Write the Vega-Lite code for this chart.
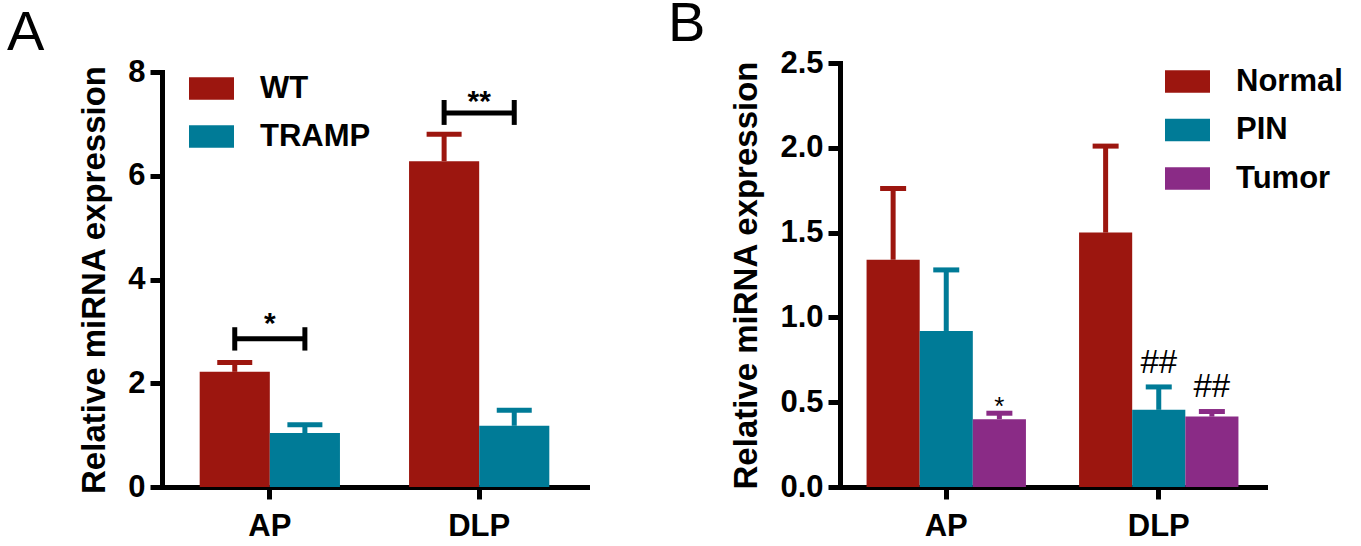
{
  "$schema": "https://vega.github.io/schema/vega-lite/v6.json",
  "background": "white",
  "padding": {"left": 7, "top": -4, "right": 5, "bottom": 5},
  "spacing": 81,
  "resolve": {
    "scale": {"x": "independent", "y": "independent", "xOffset": "independent", "color": "independent"},
    "axis": {"x": "independent", "y": "independent"},
    "legend": {"color": "independent"}
  },
  "datasets": {
    "barsA": [
      {"region": "AP", "group": "WT", "mean": 2.22, "upper": 2.4},
      {"region": "AP", "group": "TRAMP", "mean": 1.04, "upper": 1.2},
      {"region": "DLP", "group": "WT", "mean": 6.28, "upper": 6.8},
      {"region": "DLP", "group": "TRAMP", "mean": 1.18, "upper": 1.48}
    ],
    "bracketA": [
      {"region": "AP", "y": 2.86, "star": 3.25, "label": "*"},
      {"region": "DLP", "y": 7.21, "star": 7.54, "label": "**"}
    ],
    "bracketEndsA": [
      {"region": "AP", "group": "WT", "lo": 2.63, "hi": 3.08},
      {"region": "AP", "group": "TRAMP", "lo": 2.63, "hi": 3.08},
      {"region": "DLP", "group": "WT", "lo": 6.98, "hi": 7.46},
      {"region": "DLP", "group": "TRAMP", "lo": 6.98, "hi": 7.46}
    ],
    "barsB": [
      {"region": "AP", "group": "Normal", "mean": 1.34, "upper": 1.76},
      {"region": "AP", "group": "PIN", "mean": 0.92, "upper": 1.28},
      {"region": "AP", "group": "Tumor", "mean": 0.4, "upper": 0.435},
      {"region": "DLP", "group": "Normal", "mean": 1.5, "upper": 2.01},
      {"region": "DLP", "group": "PIN", "mean": 0.455, "upper": 0.59},
      {"region": "DLP", "group": "Tumor", "mean": 0.415, "upper": 0.445}
    ],
    "starsB": [
      {"region": "AP", "group": "Tumor", "pos": 0.5, "label": "*"}
    ],
    "hashB": [
      {"region": "DLP", "group": "PIN", "pos": 0.74, "label": "##"},
      {"region": "DLP", "group": "Tumor", "pos": 0.6, "label": "##"}
    ]
  },
  "hconcat": [
    {
      "width": 425,
      "height": 424,
      "title": {"text": "A", "anchor": "start", "frame": "group", "dx": -155, "offset": -6, "fontSize": 56, "fontWeight": "normal", "font": "Liberation Sans", "color": "black"},
      "layer": [
        {
          "data": {"name": "barsA"},
          "mark": {"type": "bar"},
          "encoding": {
            "x": {"field": "region", "type": "nominal", "sort": ["AP", "DLP"],
                  "scale": {"paddingInner": 0.33, "paddingOuter": 0.18},
                  "axis": {"title": null, "labelAngle": 0, "labelPadding": 12}},
            "xOffset": {"field": "group", "type": "nominal", "scale": {"domain": ["WT", "TRAMP"]}},
            "y": {"field": "mean", "type": "quantitative",
                  "scale": {"domain": [0, 8], "range": [424, 9], "nice": false},
                  "axis": {"title": "Relative miRNA expression", "values": [0, 2, 4, 6, 8], "format": "d", "labelPadding": 5, "titlePadding": 16}},
            "color": {"field": "group", "type": "nominal",
                      "scale": {"domain": ["WT", "TRAMP"], "range": ["#9c160f", "#007b97"]},
                      "legend": {"orient": "none", "legendX": 27, "legendY": 3, "title": null,
                                 "symbolType": "M-1,-0.5H1V0.5H-1Z", "symbolSize": 2025, "symbolStrokeWidth": 0,
                                 "labelFont": "Liberation Sans", "labelFontSize": 31, "labelFontWeight": "bold", "labelColor": "black",
                                 "labelOffset": 26, "rowPadding": 10}}
          }
        },
        {
          "data": {"name": "barsA"},
          "mark": {"type": "rule", "strokeWidth": 5},
          "encoding": {
            "x": {"field": "region", "type": "nominal", "sort": ["AP", "DLP"]},
            "xOffset": {"field": "group", "type": "nominal"},
            "y": {"field": "mean", "type": "quantitative"},
            "y2": {"field": "upper"},
            "color": {"field": "group", "type": "nominal", "legend": null}
          }
        },
        {
          "data": {"name": "barsA"},
          "mark": {"type": "tick", "orient": "horizontal", "size": 35, "thickness": 5, "opacity": 1},
          "encoding": {
            "x": {"field": "region", "type": "nominal", "sort": ["AP", "DLP"]},
            "xOffset": {"field": "group", "type": "nominal"},
            "y": {"field": "upper", "type": "quantitative"},
            "color": {"field": "group", "type": "nominal", "legend": null}
          }
        },
        {
          "data": {"name": "bracketA"},
          "mark": {"type": "tick", "orient": "horizontal", "size": 72, "thickness": 5, "opacity": 1, "color": "black"},
          "encoding": {
            "x": {"field": "region", "type": "nominal", "sort": ["AP", "DLP"]},
            "y": {"field": "y", "type": "quantitative"}
          }
        },
        {
          "data": {"name": "bracketEndsA"},
          "mark": {"type": "rule", "strokeWidth": 5, "color": "black"},
          "encoding": {
            "x": {"field": "region", "type": "nominal", "sort": ["AP", "DLP"]},
            "xOffset": {"field": "group", "type": "nominal"},
            "y": {"field": "lo", "type": "quantitative"},
            "y2": {"field": "hi"}
          }
        },
        {
          "data": {"name": "bracketA"},
          "mark": {"type": "text", "font": "Liberation Sans", "fontWeight": "bold", "fontSize": 30, "color": "black", "baseline": "alphabetic", "dy": 15},
          "encoding": {
            "x": {"field": "region", "type": "nominal", "sort": ["AP", "DLP"]},
            "y": {"field": "star", "type": "quantitative"},
            "text": {"field": "label"}
          }
        }
      ]
    },
    {
      "width": 425,
      "height": 424,
      "title": {"text": "B", "anchor": "start", "frame": "group", "dx": -172, "offset": -6, "fontSize": 56, "fontWeight": "normal", "font": "Liberation Sans", "color": "black"},
      "layer": [
        {
          "data": {"name": "barsB"},
          "mark": {"type": "bar"},
          "encoding": {
            "x": {"field": "region", "type": "nominal", "sort": ["AP", "DLP"],
                  "scale": {"paddingInner": 0.25, "paddingOuter": 0.125},
                  "axis": {"title": null, "labelAngle": 0, "labelPadding": 12}},
            "xOffset": {"field": "group", "type": "nominal", "scale": {"domain": ["Normal", "PIN", "Tumor"]}},
            "y": {"field": "mean", "type": "quantitative",
                  "scale": {"domain": [0, 2.5], "nice": false},
                  "axis": {"title": "Relative miRNA expression", "values": [0, 0.5, 1, 1.5, 2, 2.5], "format": ".1f", "labelPadding": 5, "titlePadding": 16}},
            "color": {"field": "group", "type": "nominal",
                      "scale": {"domain": ["Normal", "PIN", "Tumor"], "range": ["#9c160f", "#007b97", "#8a2b86"]},
                      "legend": {"orient": "none", "legendX": 325, "legendY": -4, "title": null,
                                 "symbolType": "M-1,-0.5H1V0.5H-1Z", "symbolSize": 2025, "symbolStrokeWidth": 0,
                                 "labelFont": "Liberation Sans", "labelFontSize": 31, "labelFontWeight": "bold", "labelColor": "black",
                                 "labelOffset": 26, "rowPadding": 10.5}}
          }
        },
        {
          "data": {"name": "barsB"},
          "mark": {"type": "rule", "strokeWidth": 5},
          "encoding": {
            "x": {"field": "region", "type": "nominal", "sort": ["AP", "DLP"]},
            "xOffset": {"field": "group", "type": "nominal"},
            "y": {"field": "mean", "type": "quantitative"},
            "y2": {"field": "upper"},
            "color": {"field": "group", "type": "nominal", "legend": null}
          }
        },
        {
          "data": {"name": "barsB"},
          "mark": {"type": "tick", "orient": "horizontal", "size": 26, "thickness": 5, "opacity": 1},
          "encoding": {
            "x": {"field": "region", "type": "nominal", "sort": ["AP", "DLP"]},
            "xOffset": {"field": "group", "type": "nominal"},
            "y": {"field": "upper", "type": "quantitative"},
            "color": {"field": "group", "type": "nominal", "legend": null}
          }
        },
        {
          "data": {"name": "starsB"},
          "mark": {"type": "text", "font": "Liberation Sans", "fontSize": 26, "color": "black", "baseline": "alphabetic", "dy": 13},
          "encoding": {
            "x": {"field": "region", "type": "nominal", "sort": ["AP", "DLP"]},
            "xOffset": {"field": "group", "type": "nominal"},
            "y": {"field": "pos", "type": "quantitative"},
            "text": {"field": "label"}
          }
        },
        {
          "data": {"name": "hashB"},
          "mark": {"type": "text", "font": "Liberation Sans", "fontSize": 33, "color": "black", "baseline": "alphabetic", "dy": 12},
          "encoding": {
            "x": {"field": "region", "type": "nominal", "sort": ["AP", "DLP"]},
            "xOffset": {"field": "group", "type": "nominal"},
            "y": {"field": "pos", "type": "quantitative"},
            "text": {"field": "label"}
          }
        }
      ]
    }
  ],
  "config": {
    "view": {"stroke": null},
    "font": "Liberation Sans",
    "axis": {
      "domainColor": "black", "domainWidth": 5, "domainCap": "square",
      "tickColor": "black", "tickWidth": 5, "tickSize": 12,
      "labelColor": "black", "labelFont": "Liberation Sans", "labelFontWeight": "bold", "labelFontSize": 31,
      "titleColor": "black", "titleFont": "Liberation Sans", "titleFontWeight": "bold", "titleFontSize": 33,
      "grid": false
    }
  }
}
